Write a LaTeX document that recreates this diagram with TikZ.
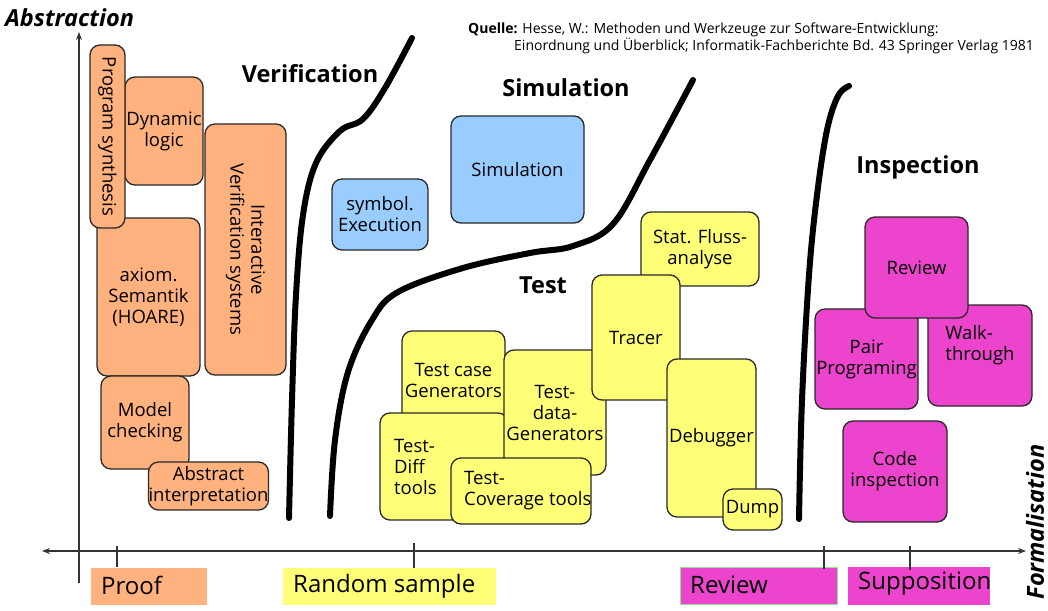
\documentclass[tikz,border=0pt]{standalone}
\usepackage{fontspec}
\setmainfont{Open Sans}
\usetikzlibrary{arrows.meta}
\definecolor{corange}{RGB}{255,178,125}
\definecolor{cblue}{RGB}{153,204,255}
\definecolor{cyellow}{RGB}{255,255,119}
\definecolor{cmag}{RGB}{236,68,204}
\definecolor{cgreen}{RGB}{150,225,150}
\definecolor{cborder}{RGB}{40,40,40}
\tikzset{
  box/.style={draw=cborder, line width=1.3pt, rounded corners=10pt, align=center,
    inner sep=0pt, font=\fontsize{18.5}{21}\selectfont},
  obox/.style={box, fill=corange},
  bbox/.style={box, fill=cblue},
  ybox/.style={box, fill=cyellow},
  mbox/.style={box, fill=cmag},
  region/.style={font=\fontsize{23.5}{26}\selectfont\bfseries},
  curve/.style={line width=6pt, line cap=round, line join=round},
  axis/.style={line width=1.3pt, draw=black!80},
  tick/.style={line width=1.1pt, draw=black!80},
  lab/.style={anchor=west, inner sep=0pt, font=\fontsize{24}{27}\selectfont},
  labbox/.style={inner sep=0pt, draw=none},
  btext/.style={align=left, inner sep=0pt, font=\fontsize{18.5}{21}\selectfont},
}
\newcommand\bx[7]{\node[#1, minimum width=#5pt, minimum height=#6pt] (#2) at (#3,#4) {#7};}
\begin{document}
\begin{tikzpicture}[x=1pt,y=-1pt]
\useasboundingbox (0,0) rectangle (1048,610);
% axes
\coordinate (ybot) at (79,583);
\coordinate (ytop) at (79,32);
\coordinate (xl) at (42,551);
\coordinate (xr) at (1026,551);
\draw[axis, -{Stealth[length=8pt,width=6pt]}] (ybot) -- (ytop);
\draw[axis, {Stealth[length=8pt,width=6pt]}-{Stealth[length=8pt,width=6pt]}] (xl) -- (xr);
% ticks
\coordinate (t1a) at (117,546); \coordinate (t1b) at (117,567);
\coordinate (t2a) at (414,543); \coordinate (t2b) at (414,568);
\coordinate (t3a) at (824,546); \coordinate (t3b) at (824,569);
\coordinate (t4a) at (910,546); \coordinate (t4b) at (910,570);
% bottom labels
\node[labbox, fill=corange, minimum width=116pt, minimum height=37pt] (lproof) at (149,586.5) {};
\node[labbox, fill=cyellow, minimum width=213pt, minimum height=37pt] (lrand) at (389.5,586.5) {};
\node[labbox, fill=cmag, draw=cgreen, line width=1.5pt, minimum width=157pt, minimum height=37pt] (lrev) at (759,586) {};
\node[labbox, fill=cmag, minimum width=142pt, minimum height=38pt] (lsup) at (919,586) {};
\node[lab] (tproof) at (101,585) {Proof};
\node[lab] (trand) at (293,586) {Random sample};
\node[lab] (trev) at (690,585) {Review};
\node[lab] (tsup) at (858,584) {Supposition};
\draw[tick] (t1a) -- (t1b);
\draw[tick] (t2a) -- (t2b);
\draw[tick] (t3a) -- (t3b);
\draw[tick] (t4a) -- (t4b);
% axis titles
\node[font=\fontsize{23.5}{26}\selectfont\bfseries\itshape, anchor=west, inner sep=0pt] (abs) at (5,18) {Abstraction};
\node[font=\fontsize{23.5}{26}\selectfont\bfseries\itshape, rotate=90, inner sep=0pt] (form) at (1035,522) {Formalisation};
% source
\node[font=\fontsize{14}{15}\selectfont, anchor=north west, align=left, inner sep=0pt] (src) at (468,23)
  {\textbf{Quelle:} Hesse, W.: Methoden und Werkzeuge zur Software-Entwicklung:\\\hspace*{46pt}Einordnung und Überblick; Informatik-Fachberichte Bd. 43 Springer Verlag 1981};
% region labels
\node[region] (rver) at (310,74) {Verification};
\node[region] (rsim) at (566,88) {Simulation};
\node[region] (rtest) at (543,285) {Test};
\node[region] (rins) at (918,167) {Inspection};
% separating curves
\draw[curve] plot[smooth, tension=0.6] coordinates {(289,518) (292,400) (296,295) (303,215) (316,163) (340,131) (363,119) (385,88) (412,38)};
\draw[curve] plot[smooth, tension=0.6] coordinates {(330,516) (335,440) (348,372) (372,320) (398,292) (463,268) (530,253) (573,246) (613,224) (650,160) (693,80)};
\draw[curve] plot[smooth, tension=0.6] coordinates {(799,519) (802,400) (809,275) (817,195) (827,130) (838,96) (849,86)};
% orange boxes
\bx{obox}{ax}{148.5}{297}{103}{158}{axiom.\\Semantik\\(HOARE)}
\bx{obox}{mc}{145}{422.5}{88}{93}{Model\\checking}
\bx{obox}{ai}{208.5}{486}{119}{48}{Abstract\\interpretation}
\bx{obox}{dl}{164}{131}{78}{108}{Dynamic\\logic}
\node[obox, minimum width=183pt, minimum height=35pt, rotate=-90] (ps) at (107.5,136.5) {Program synthesis};
\node[obox, minimum width=251pt, minimum height=81pt, rotate=-90] (ivs) at (245.5,249.5) {Interactive\\Verification systems};
% blue boxes
\bx{bbox}{se}{380}{214.5}{96}{71}{symbol.\\Execution}
\bx{bbox}{sim}{517.5}{169.5}{133}{107}{Simulation}
% yellow boxes
\bx{ybox}{sfa}{700}{249}{118}{74}{Stat. Fluss-\\analyse}
\bx{ybox}{tcg}{453.5}{380.5}{103}{99}{Test case\\Generators}
\bx{ybox}{tdt}{444}{466.5}{128}{107}{}
\node[btext, anchor=west] (tdtt) at (394,467) {Test-\\Diff\\tools};
\bx{ybox}{tdg}{555}{412.5}{102}{125}{Test-\\data-\\Generators}
\bx{ybox}{tct}{521}{491}{140}{66}{}
\node[btext, anchor=west] (tctt) at (464,491) {Test-\\Coverage tools};
\bx{ybox}{tr}{636}{337.5}{88}{125}{Tracer}
\bx{ybox}{dbg}{711.5}{438}{89}{158}{Debugger}
\bx{ybox}{dump}{752.5}{509.5}{59}{41}{Dump}
% magenta boxes
\bx{mbox}{pp}{866.5}{359}{103}{100}{Pair\\Programing}
\bx{mbox}{wt}{980}{355.5}{104}{101}{}
\node[btext] (wtt) at (980,345) {Walk-\\through};
\bx{mbox}{rev}{916.5}{267.5}{103}{101}{Review}
\bx{mbox}{ci}{895}{471.5}{104}{101}{Code\\inspection}
\end{tikzpicture}
\end{document}
